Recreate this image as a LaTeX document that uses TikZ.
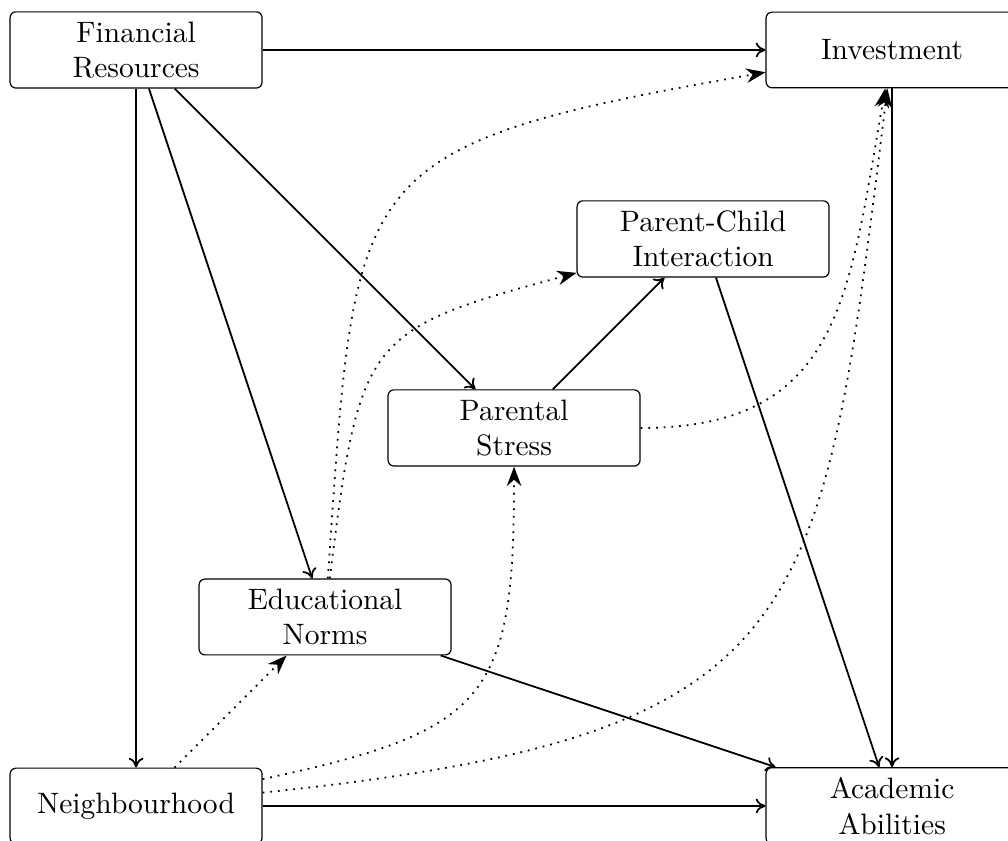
\documentclass[tikz,border=0pt]{standalone}
\usetikzlibrary{arrows.meta}
\begin{document}
\begin{tikzpicture}[
  x=2.25cm, y=2.25cm,
  factor/.style={draw, thin, rounded corners=2pt, align=center,
    minimum width=3cm, minimum height=0.9cm, inner sep=3.33pt},
  direct/.style={-{To[length=3.3pt,width=5pt]}, semithick},
  indirect/.style={-{Stealth[scale=1.15]}, semithick, dotted}
]
\useasboundingbox (-1.62cm,-0.417cm) rectangle (10.38cm,9.595cm);

% factors
\node[factor] (fin) at (0,4) {Financial\\Resources};
\node[factor] (inv) at (4,4) {Investment};
\node[factor] (pci) at (3,3) {Parent-Child\\Interaction};
\node[factor] (ps)  at (2,2) {Parental\\Stress};
\node[factor] (en)  at (1,1) {Educational\\Norms};
\node[factor] (nb)  at (0,0) {Neighbourhood};
\node[factor] (aa)  at (4,0) {Academic\\Abilities};

% direct effects
\draw[direct] (fin) -- (inv);
\draw[direct] (fin) -- (nb);
\draw[direct] (fin) -- (en);
\draw[direct] (fin) -- (ps);
\draw[direct] (ps) -- (pci);
\draw[direct] (pci) -- (aa);
\draw[direct] (inv) -- (aa);
\draw[direct] (en) -- (aa);
\draw[direct] (nb) -- (aa);

% indirect effects
\draw[indirect] (nb) -- (en);
\draw[indirect] (en.86) .. controls +(86:4.9cm) and +(190:5.1cm) .. (inv.190);
\draw[indirect] (en.83) .. controls +(83:2.9cm) and +(195:2.6cm) .. (pci.195);
\draw[indirect] (ps.east) .. controls +(0:2.4cm) and +(260:2.5cm) .. (inv.260);
\draw[indirect] (nb.12) .. controls +(12:2.75cm) and +(270:2.75cm) .. (ps.south);
\draw[indirect] (nb.6) .. controls +(6:6.6cm) and +(263:6.5cm) .. (inv.263);
\end{tikzpicture}
\end{document}
